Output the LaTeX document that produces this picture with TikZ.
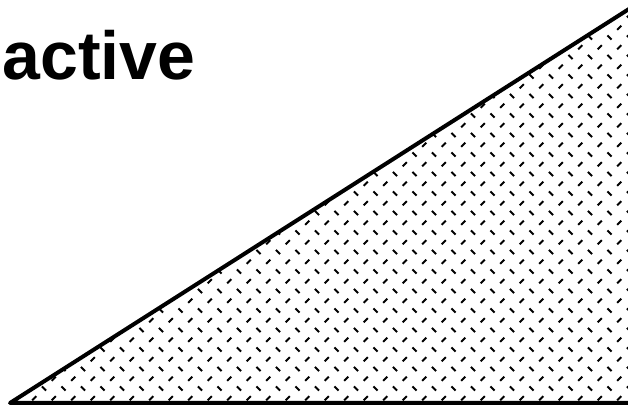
\documentclass[tikz,border=0pt]{standalone}
\usepackage{fontspec}
\setmainfont{Liberation Sans}
\begin{document}
\begin{tikzpicture}[x=0.5pt, y=0.5pt,
  every node/.style={font=\fontsize{34}{40}\selectfont\bfseries, inner sep=0pt},
  edgeline/.style={line width=2pt, line join=round},
  hatchdash/.style={line width=1pt}]
\definecolor{inkcolor}{RGB}{0,0,0}
\useasboundingbox (0,0) rectangle (628,412);
% Label (cut at the left edge)
\node[anchor=base west, inkcolor] (title) at (2,332) {active};
% Triangle corners
\coordinate (apex) at (10,9);
\coordinate (top) at (640,410);
\coordinate (foot) at (640,9);
% Hatch fill
\begin{scope}
  \clip (apex) -- (top) -- (foot) -- cycle;
  \foreach \i in {0,...,33} {
    \foreach \j in {0,...,21} {
      \pgfmathsetmacro{\xa}{5 + \i*19.5}
      \pgfmathsetmacro{\ya}{4 + \j*19.5}
      % back slash
      \draw[hatchdash, inkcolor] ({\xa-2.1},{\ya+2.1}) -- ({\xa+2.1},{\ya-2.1});
      % forward slash
      \draw[hatchdash, inkcolor] ({\xa+9.75-2.1},{\ya+9.75-2.1}) -- ({\xa+9.75+2.1},{\ya+9.75+2.1});
    }
  }
\end{scope}
% Outline
\draw[edgeline, inkcolor] (top) -- (apex) -- (foot);
\end{tikzpicture}
\end{document}
